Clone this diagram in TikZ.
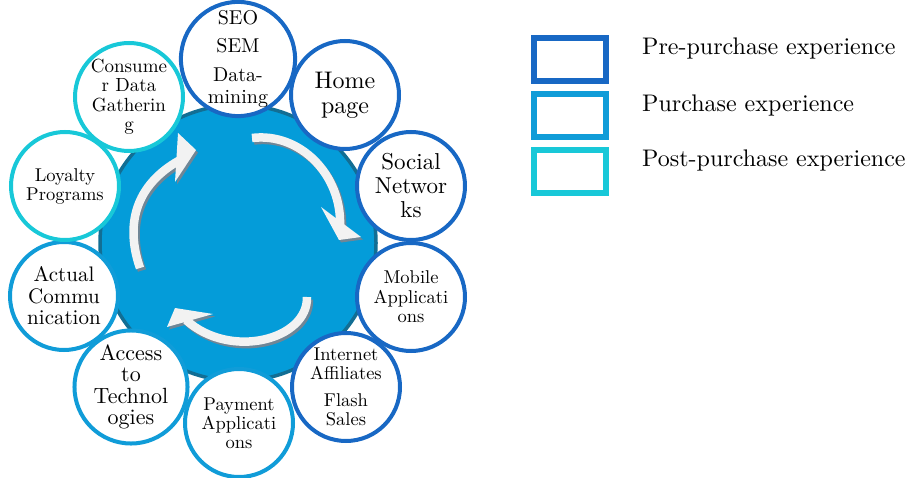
\documentclass[tikz,border=0pt]{standalone}
\usepackage{fontspec}
\setmainfont{lmroman10-regular.otf}
\usepackage{tikz}

\definecolor{precol}{RGB}{24,104,196}
\definecolor{buycol}{RGB}{16,156,216}
\definecolor{postcol}{RGB}{24,200,216}
\definecolor{hubfill}{RGB}{4,156,217}
\definecolor{hubedge}{RGB}{18,110,148}
\definecolor{arrowwhite}{RGB}{242,242,242}
\definecolor{arrowshade}{RGB}{112,134,150}

\begin{document}
\begin{tikzpicture}[x=1pt,y=-1pt,
  stage/.style={circle,fill=white,line width=4pt,minimum size=108pt,inner sep=0pt,align=center},
  prestage/.style={stage,draw=precol},
  buystage/.style={stage,draw=buycol},
  poststage/.style={stage,draw=postcol},
  legbox/.style={rectangle,line width=6pt,minimum width=72pt,minimum height=43pt,inner sep=0pt},
  legtxt/.style={anchor=base west,inner sep=0pt,font=\fontsize{24}{28}\selectfont}]
\useasboundingbox (0,0) rectangle (909,478);

\node[circle,fill=hubfill,draw=hubedge,line width=3.5pt,minimum size=276pt] (hub) at (238,243) {};

\foreach \dx/\dy/\col in {2/2.5/arrowshade,0/0/arrowwhite}{
  \begin{scope}[shift={(\dx,\dy)},draw=\col,fill=\col]
    \draw[line width=8.5pt] (252,138) .. controls (300,132) and (342,175) .. (340,226);
    \fill (321,207) -- (361,237) -- (339,240) -- cycle;
    \draw[line width=8.5pt] (307,297) .. controls (308,340) and (230,360) .. (186,320);
    \fill (175,308) -- (213,314) -- (167,327) -- cycle;
    \draw[line width=8.5pt] (140,268) .. controls (125,225) and (135,185) .. (180,160);
    \fill (178,133) -- (196,150) -- (175,182) -- cycle;
  \end{scope}
}

\node[prestage,font=\fontsize{20}{22}\selectfont] (seo) at (238,59) {SEO\\[6pt]SEM\\[7pt]Data-\\mining};
\node[prestage,font=\fontsize{24}{25}\selectfont] (home) at (345,95) {Home\\page};
\node[prestage,font=\fontsize{23}{24}\selectfont] (social) at (411,186) {Social\\Networ\\ks};
\node[prestage,font=\fontsize{18.5}{19.5}\selectfont] (mobile) at (411,297) {Mobile\\Applicati\\ons};
\node[prestage,font=\fontsize{18.5}{19.5}\selectfont] (affiliates) at (346,387) {Internet\\Affiliates\\[7pt]Flash\\Sales};
\node[buystage,font=\fontsize{18.5}{19}\selectfont] (payment) at (239,423) {Payment\\Applicati\\ons};
\node[buystage,font=\fontsize{22}{21.5}\selectfont] (access) at (131,387) {Access\\to\\Technol\\ogies};
\node[buystage,font=\fontsize{21}{21.5}\selectfont] (actual) at (64,296) {Actual\\Commu\\nication};
\node[poststage,font=\fontsize{18.5}{19}\selectfont] (loyalty) at (65,186) {Loyalty\\Programs};
\node[poststage,font=\fontsize{19}{19.5}\selectfont] (consumer) at (129,97) {Consume\\r Data\\Gatherin\\g};

\node[legbox,draw=precol] (prebox) at (570,59.5) {};
\node[legbox,draw=buycol] (buybox) at (570,116) {};
\node[legbox,draw=postcol] (postbox) at (570,171.5) {};
\node[legtxt] (pretxt) at (642,55) {Pre-purchase experience};
\node[legtxt] (buytxt) at (642,112) {Purchase experience};
\node[legtxt] (posttxt) at (642,167) {Post-purchase experience};
\end{tikzpicture}
\end{document}
